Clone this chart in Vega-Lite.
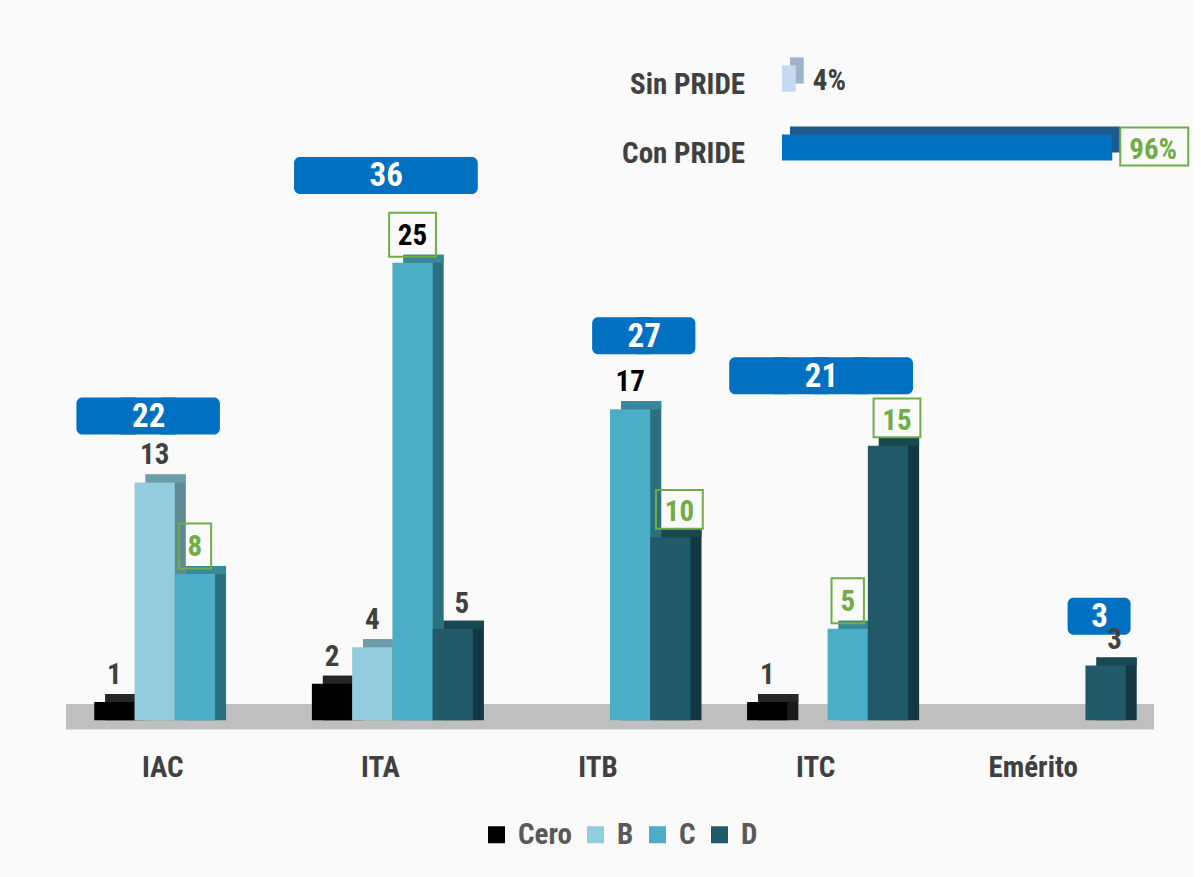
{
  "$schema": "https://vega.github.io/schema/vega-lite/v6.json",
  "width": 1088,
  "height": 690,
  "padding": {"left": 66, "top": 45, "right": 0, "bottom": 27},
  "autosize": {"type": "pad"},
  "background": "#FAFAFA",
  "config": {
    "font": "Liberation Sans Narrow, Roboto Condensed, DejaVu Sans Condensed, Liberation Sans, sans-serif",
    "view": {"stroke": null}
  },
  "datasets": {
    "bars": [
      {"group": "IAC", "series": "Cero", "value": 1},
      {"group": "IAC", "series": "B", "value": 13},
      {"group": "IAC", "series": "C", "value": 8},
      {"group": "ITA", "series": "Cero", "value": 2},
      {"group": "ITA", "series": "B", "value": 4},
      {"group": "ITA", "series": "C", "value": 25},
      {"group": "ITA", "series": "D", "value": 5},
      {"group": "ITB", "series": "C", "value": 17},
      {"group": "ITB", "series": "D", "value": 10},
      {"group": "ITC", "series": "Cero", "value": 1},
      {"group": "ITC", "series": "B", "value": null},
      {"group": "ITC", "series": "C", "value": 5},
      {"group": "ITC", "series": "D", "value": 15},
      {"group": "Emérito", "series": "D", "value": 3}
    ],
    "pride": [
      {"cat": "Sin PRIDE", "share": 0.04},
      {"cat": "Con PRIDE", "share": 0.96}
    ]
  },
  "resolve": {
    "scale": {"x": "independent", "y": "independent", "xOffset": "independent"},
    "axis": {"x": "independent", "y": "independent"}
  },
  "layer": [
    {
      "data": {"values": [{"floor": 1}]},
      "mark": {"type": "rect", "color": "#BFBFBF"},
      "encoding": {
        "y": {"datum": 0.9, "type": "quantitative", "scale": {"domain": [-0.8, 36.9], "nice": false, "zero": false}, "axis": null},
        "y2": {"datum": -0.5}
      }
    },
    {
      "data": {"name": "bars"},
      "transform": [{"filter": "datum.value != null"}],
      "mark": {"type": "bar", "yOffset": -8, "y2Offset": -8},
      "encoding": {
        "x": {"field": "group", "type": "nominal", "scale": {"type": "band", "domain": ["IAC", "ITA", "ITB", "ITC", "Emérito"], "paddingInner": 0.26, "paddingOuter": 0.13, "range": [11, 1099]}, "axis": null},
        "xOffset": {"field": "series", "type": "nominal", "scale": {"type": "band", "domain": ["Cero", "B", "C", "D"], "paddingInner": 0, "paddingOuter": 0}},
        "y": {"field": "value", "type": "quantitative", "stack": null, "scale": {"domain": [-0.8, 36.9], "nice": false, "zero": false}, "axis": null},
        "color": {"condition": [
          {"test": "datum.series==='Cero'", "value": "#1A1A1A"},
          {"test": "datum.series==='B'", "value": "#5E8A96"},
          {"test": "datum.series==='C'", "value": "#2C6F7F"}
        ], "value": "#143841"}
      }
    },
    {
      "data": {"name": "bars"},
      "transform": [{"filter": "datum.value != null"}],
      "mark": {"type": "rect", "y2Offset": -8},
      "encoding": {
        "x": {"field": "group", "type": "nominal", "scale": {"type": "band", "domain": ["IAC", "ITA", "ITB", "ITC", "Emérito"], "paddingInner": 0.26, "paddingOuter": 0.13, "range": [11, 1099]}, "axis": null},
        "xOffset": {"field": "series", "type": "nominal", "scale": {"type": "band", "domain": ["Cero", "B", "C", "D"], "paddingInner": 0, "paddingOuter": 0}},
        "y": {"field": "value", "type": "quantitative", "scale": {"domain": [-0.8, 36.9], "nice": false, "zero": false}, "axis": null},
        "y2": {"field": "value"},
        "color": {"condition": [
          {"test": "datum.series==='Cero'", "value": "#262626"},
          {"test": "datum.series==='B'", "value": "#6E9DAA"},
          {"test": "datum.series==='C'", "value": "#37889B"}
        ], "value": "#1A4852"}
      }
    },
    {
      "data": {"name": "bars"},
      "transform": [{"filter": "datum.value != null"}],
      "mark": {"type": "bar"},
      "encoding": {
        "x": {"field": "group", "type": "nominal", "scale": {"type": "band", "domain": ["IAC", "ITA", "ITB", "ITC", "Emérito"], "paddingInner": 0.26, "paddingOuter": 0.13},
          "axis": {"title": null, "domain": false, "ticks": false, "tickSize": 0, "labelAngle": 0, "labelFontSize": 29, "labelFontWeight": "bold", "labelColor": "#404040", "labelPadding": 18, "labelOffset": -12}},
        "xOffset": {"field": "series", "type": "nominal", "scale": {"type": "band", "domain": ["Cero", "B", "C", "D"], "paddingInner": 0, "paddingOuter": 0}},
        "y": {"field": "value", "type": "quantitative", "stack": null, "scale": {"domain": [-0.8, 36.9], "nice": false, "zero": false}, "axis": null},
        "color": {"field": "series", "type": "nominal",
          "scale": {"domain": ["Cero", "B", "C", "D"], "range": ["#000000", "#93CDDD", "#4BADC6", "#215968"]},
          "legend": {"title": null, "orient": "none", "legendX": 416, "legendY": 775, "direction": "horizontal", "symbolType": "square", "symbolSize": 289, "symbolStrokeWidth": 0, "labelFontSize": 29, "labelFontWeight": "bold", "labelColor": "#595959", "labelOffset": 7, "columnPadding": 9}}
      }
    },
    {
      "data": {"name": "bars"},
      "transform": [{"filter": "datum.value != null && ((datum.group==='IAC'&&datum.series==='C')||(datum.group==='ITA'&&datum.series==='C')||(datum.group==='ITB'&&datum.series==='D')||(datum.group==='ITC'&&(datum.series==='C'||datum.series==='D')))"}],
      "mark": {"type": "point", "filled": false, "stroke": "#70AD47", "strokeWidth": 2, "opacity": 1, "size": 2025, "yOffset": -28},
      "encoding": {
        "x": {"field": "group", "type": "nominal", "scale": {"type": "band", "domain": ["IAC", "ITA", "ITB", "ITC", "Emérito"], "paddingInner": 0.26, "paddingOuter": 0.13}, "axis": null},
        "xOffset": {"field": "series", "type": "nominal", "scale": {"type": "band", "domain": ["Cero", "B", "C", "D"], "paddingInner": 0, "paddingOuter": 0}},
        "y": {"field": "value", "type": "quantitative", "scale": {"domain": [-0.8, 36.9], "nice": false, "zero": false}, "axis": null},
        "shape": {"condition": [
          {"test": "datum.series === 'D'", "value": "M-0.64,-0.86H1.44V0.86H-0.64Z"},
          {"test": "datum.value >= 10", "value": "M-1.04,-0.98H1.04V0.98H-1.04Z"}
        ], "value": "M-0.72,-1H0.72V1H-0.72Z"}
      }
    },
    {
      "data": {"name": "bars"},
      "transform": [{"joinaggregate": [{"op": "max", "field": "value", "as": "mx"}], "groupby": ["group"]}],
      "mark": {"type": "point", "filled": true, "color": "#0070C0", "opacity": 1, "strokeWidth": 0, "size": 1600,
        "shape": "M-1.6,-0.925H0.95A0.3,0.3 0 0 1 1.25,-0.625V0.625A0.3,0.3 0 0 1 0.95,0.925H-1.6A0.3,0.3 0 0 1 -1.9,0.625V-0.625A0.3,0.3 0 0 1 -1.6,-0.925Z"},
      "encoding": {
        "x": {"field": "group", "type": "nominal", "scale": {"type": "band", "domain": ["IAC", "ITA", "ITB", "ITC", "Emérito"], "paddingInner": 0.26, "paddingOuter": 0.13}, "axis": null},
        "xOffset": {"field": "series", "type": "nominal", "scale": {"type": "band", "domain": ["Cero", "B", "C", "D"], "paddingInner": 0, "paddingOuter": 0}},
        "y": {"field": "mx", "type": "quantitative", "scale": {"domain": [-2.922, 31.507], "nice": false, "zero": false}, "axis": null}
      }
    },
    {
      "data": {"name": "bars"},
      "transform": [
        {"window": [{"op": "row_number", "as": "r"}], "groupby": ["group"]},
        {"joinaggregate": [{"op": "count", "as": "n"}, {"op": "sum", "field": "value", "as": "tot"}, {"op": "max", "field": "value", "as": "mx"}], "groupby": ["group"]},
        {"filter": "datum.r === ceil(datum.n / 2) && datum.n % 2 === 1"}
      ],
      "mark": {"type": "text", "color": "white", "fontSize": 33, "fontWeight": "bold", "baseline": "middle", "align": "center", "dy": 1, "dx": -6},
      "encoding": {
        "x": {"field": "group", "type": "nominal", "scale": {"type": "band", "domain": ["IAC", "ITA", "ITB", "ITC", "Emérito"], "paddingInner": 0.26, "paddingOuter": 0.13}, "axis": null},
        "xOffset": {"field": "series", "type": "nominal", "scale": {"type": "band", "domain": ["Cero", "B", "C", "D"], "paddingInner": 0, "paddingOuter": 0}},
        "y": {"field": "mx", "type": "quantitative", "scale": {"domain": [-2.922, 31.507], "nice": false, "zero": false}, "axis": null},
        "text": {"field": "tot", "type": "quantitative"}
      }
    },
    {
      "data": {"name": "bars"},
      "transform": [
        {"window": [{"op": "row_number", "as": "r"}], "groupby": ["group"]},
        {"joinaggregate": [{"op": "count", "as": "n"}, {"op": "sum", "field": "value", "as": "tot"}, {"op": "max", "field": "value", "as": "mx"}], "groupby": ["group"]},
        {"filter": "datum.r === ceil(datum.n / 2) && datum.n % 2 === 0"}
      ],
      "mark": {"type": "text", "color": "white", "fontSize": 33, "fontWeight": "bold", "baseline": "middle", "align": "center", "dy": 1, "dx": 14},
      "encoding": {
        "x": {"field": "group", "type": "nominal", "scale": {"type": "band", "domain": ["IAC", "ITA", "ITB", "ITC", "Emérito"], "paddingInner": 0.26, "paddingOuter": 0.13}, "axis": null},
        "xOffset": {"field": "series", "type": "nominal", "scale": {"type": "band", "domain": ["Cero", "B", "C", "D"], "paddingInner": 0, "paddingOuter": 0}},
        "y": {"field": "mx", "type": "quantitative", "scale": {"domain": [-2.922, 31.507], "nice": false, "zero": false}, "axis": null},
        "text": {"field": "tot", "type": "quantitative"}
      }
    },
    {
      "data": {"name": "bars"},
      "transform": [{"filter": "datum.value != null && datum.series !== 'D'"}],
      "mark": {"type": "text", "yOffset": -27, "fontSize": 29, "fontWeight": "bold", "baseline": "middle", "align": "center"},
      "encoding": {
        "x": {"field": "group", "type": "nominal", "scale": {"type": "band", "domain": ["IAC", "ITA", "ITB", "ITC", "Emérito"], "paddingInner": 0.26, "paddingOuter": 0.13}, "axis": null},
        "xOffset": {"field": "series", "type": "nominal", "scale": {"type": "band", "domain": ["Cero", "B", "C", "D"], "paddingInner": 0, "paddingOuter": 0}},
        "y": {"field": "value", "type": "quantitative", "scale": {"domain": [-0.8, 36.9], "nice": false, "zero": false}, "axis": null},
        "text": {"field": "value", "type": "quantitative"},
        "color": {"condition": [
          {"test": "(datum.group==='IAC'&&datum.series==='C')||(datum.group==='ITC'&&datum.series==='C')", "value": "#70AD47"},
          {"test": "datum.series==='C'&&(datum.group==='ITA'||datum.group==='ITB')", "value": "#000000"}
        ], "value": "#404040"}
      }
    },
    {
      "data": {"name": "bars"},
      "transform": [{"filter": "datum.value != null && datum.series === 'D'"}],
      "mark": {"type": "text", "yOffset": -25, "dx": 9, "fontSize": 29, "fontWeight": "bold", "baseline": "middle", "align": "center"},
      "encoding": {
        "x": {"field": "group", "type": "nominal", "scale": {"type": "band", "domain": ["IAC", "ITA", "ITB", "ITC", "Emérito"], "paddingInner": 0.26, "paddingOuter": 0.13}, "axis": null},
        "xOffset": {"field": "series", "type": "nominal", "scale": {"type": "band", "domain": ["Cero", "B", "C", "D"], "paddingInner": 0, "paddingOuter": 0}},
        "y": {"field": "value", "type": "quantitative", "scale": {"domain": [-0.8, 36.9], "nice": false, "zero": false}, "axis": null},
        "text": {"field": "value", "type": "quantitative"},
        "color": {"condition": {"test": "datum.group==='ITB'||datum.group==='ITC'", "value": "#70AD47"}, "value": "#404040"}
      }
    },
    {
      "data": {"name": "pride"},
      "mark": {"type": "bar", "xOffset": 8, "x2Offset": 8, "yOffset": -8},
      "encoding": {
        "x": {"field": "share", "type": "quantitative", "scale": {"domain": [0, 1], "range": [716, 1060], "nice": false}, "axis": null},
        "y": {"field": "cat", "type": "nominal", "scale": {"type": "band", "domain": ["Sin PRIDE", "Con PRIDE"], "range": [-1, 137], "paddingInner": 0.62, "paddingOuter": 0.31}, "axis": null},
        "color": {"condition": {"test": "datum.share > 0.5", "value": "#1F5A8C"}, "value": "#9FB4CB"}
      }
    },
    {
      "data": {"name": "pride"},
      "mark": {"type": "bar"},
      "encoding": {
        "x": {"field": "share", "type": "quantitative", "scale": {"domain": [0, 1], "range": [716, 1060], "nice": false}, "axis": null},
        "y": {"field": "cat", "type": "nominal", "scale": {"type": "band", "domain": ["Sin PRIDE", "Con PRIDE"], "range": [-1, 137], "paddingInner": 0.62, "paddingOuter": 0.31}, "axis": null},
        "color": {"condition": {"test": "datum.share > 0.5", "value": "#0070C0"}, "value": "#C6D9F1"}
      }
    },
    {
      "data": {"name": "pride"},
      "mark": {"type": "text", "align": "right", "baseline": "middle", "dx": -37, "dy": 6, "fontSize": 29, "fontWeight": "bold", "color": "#404040"},
      "encoding": {
        "x": {"datum": 0, "type": "quantitative", "scale": {"domain": [0, 1], "range": [716, 1060], "nice": false}, "axis": null},
        "y": {"field": "cat", "type": "nominal", "scale": {"type": "band", "domain": ["Sin PRIDE", "Con PRIDE"], "range": [-1, 137], "paddingInner": 0.62, "paddingOuter": 0.31}, "axis": null},
        "text": {"field": "cat", "type": "nominal"}
      }
    },
    {
      "data": {"name": "pride"},
      "transform": [{"filter": "datum.share > 0.5"}],
      "mark": {"type": "point", "filled": false, "stroke": "#70AD47", "strokeWidth": 2, "opacity": 1, "size": 1444, "xOffset": 42, "yOffset": -1, "shape": "M-1.79,-1H1.79V1H-1.79Z"},
      "encoding": {
        "x": {"field": "share", "type": "quantitative", "scale": {"domain": [0, 1], "range": [716, 1060], "nice": false}, "axis": null},
        "y": {"field": "cat", "type": "nominal", "scale": {"type": "band", "domain": ["Sin PRIDE", "Con PRIDE"], "range": [-1, 137], "paddingInner": 0.62, "paddingOuter": 0.31}, "axis": null}
      }
    },
    {
      "data": {"name": "pride"},
      "mark": {"type": "text", "align": "left", "baseline": "middle", "dx": 17, "dy": 2, "fontSize": 29, "fontWeight": "bold"},
      "encoding": {
        "x": {"field": "share", "type": "quantitative", "scale": {"domain": [0, 1], "range": [716, 1060], "nice": false}, "axis": null},
        "y": {"field": "cat", "type": "nominal", "scale": {"type": "band", "domain": ["Sin PRIDE", "Con PRIDE"], "range": [-1, 137], "paddingInner": 0.62, "paddingOuter": 0.31}, "axis": null},
        "text": {"field": "share", "type": "quantitative", "format": ".0%"},
        "color": {"condition": {"test": "datum.share > 0.5", "value": "#70AD47"}, "value": "#404040"}
      }
    }
  ]
}
